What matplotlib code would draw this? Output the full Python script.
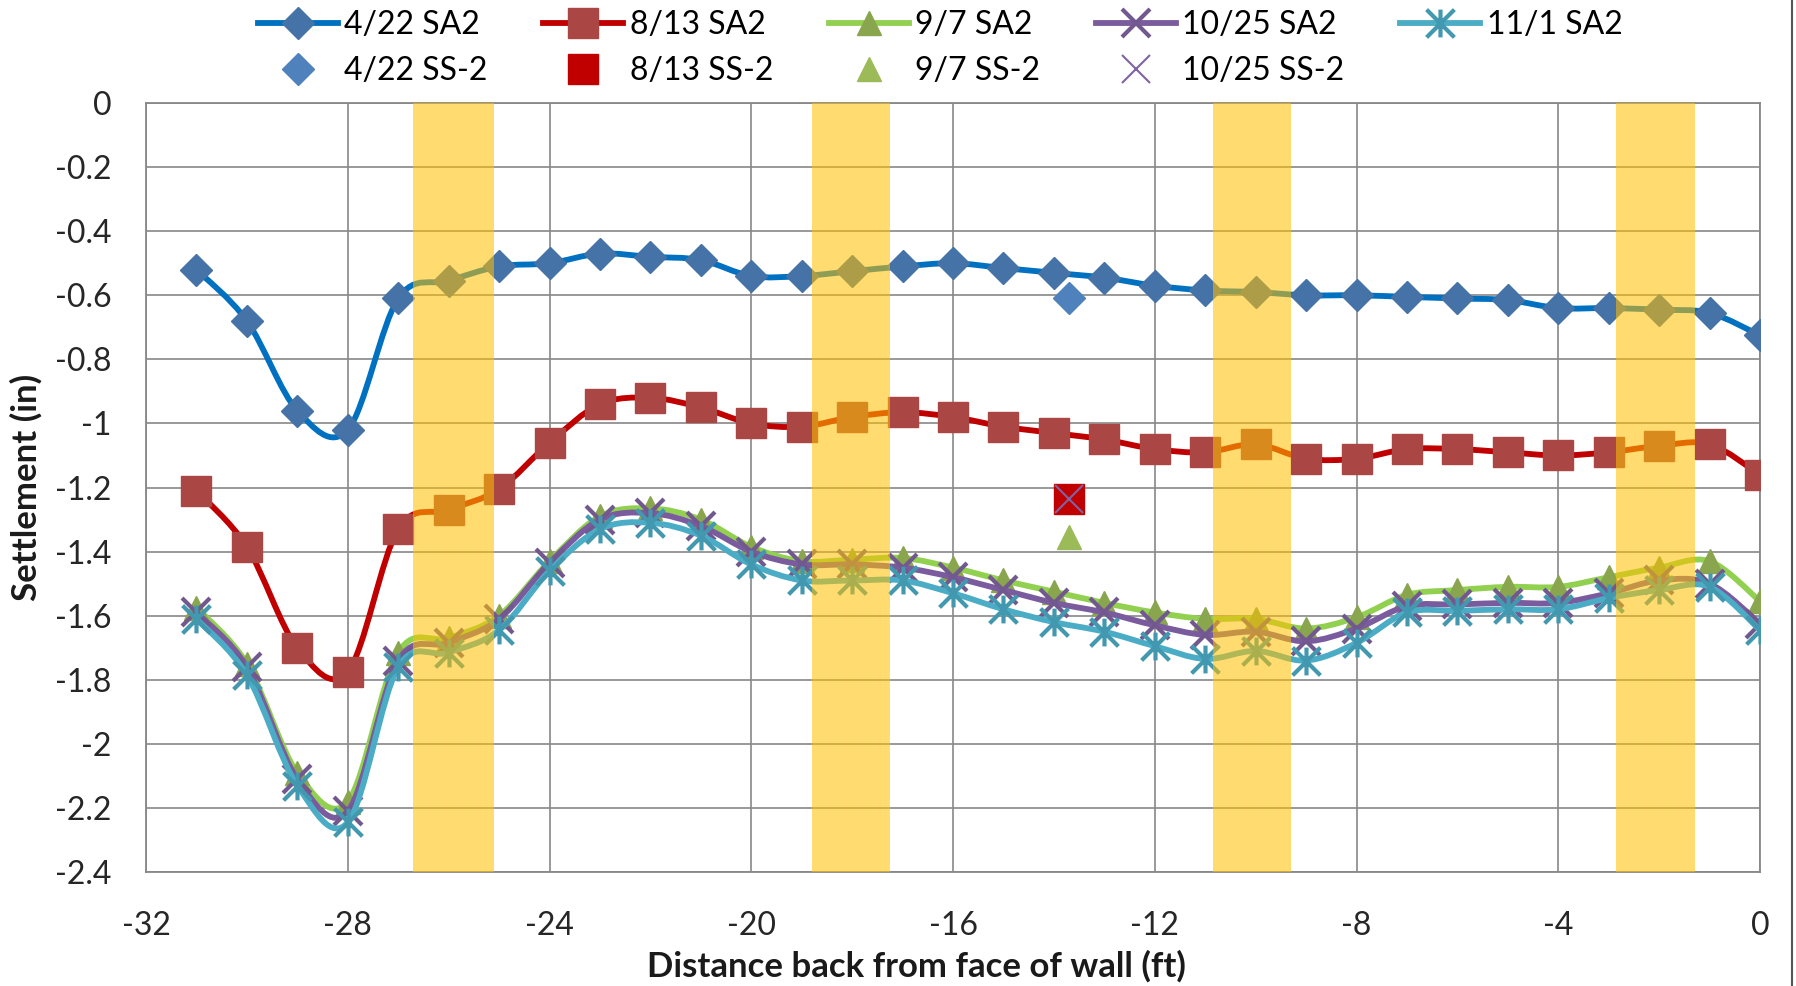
import numpy as np
import matplotlib
matplotlib.use("Agg")
import matplotlib.pyplot as plt
from matplotlib.path import Path
from matplotlib.patches import PathPatch
from matplotlib.lines import Line2D

plt.rcParams["font.family"] = ["Lato", "DejaVu Sans"]
plt.rcParams["axes.unicode_minus"] = False

# --- data ---------------------------------------------------------------
distance = list(range(-31, 1))

sa2_0422 = [-0.52, -0.68, -0.96, -1.02, -0.61, -0.555, -0.51, -0.50, -0.47, -0.48,
            -0.49, -0.54, -0.54, -0.525, -0.51, -0.50, -0.515, -0.53, -0.545, -0.57,
            -0.585, -0.59, -0.60, -0.60, -0.605, -0.61, -0.615, -0.64, -0.64, -0.645,
            -0.655, -0.725]
sa2_0813 = [-1.21, -1.385, -1.70, -1.775, -1.33, -1.27, -1.205, -1.06, -0.94, -0.92,
            -0.95, -1.00, -1.01, -0.98, -0.965, -0.98, -1.01, -1.03, -1.05, -1.08,
            -1.09, -1.065, -1.11, -1.11, -1.08, -1.08, -1.09, -1.10, -1.09, -1.07,
            -1.065, -1.16]
sa2_0907 = [-1.575, -1.75, -2.09, -2.18, -1.715, -1.67, -1.60, -1.43, -1.29, -1.265,
            -1.30, -1.385, -1.43, -1.425, -1.42, -1.45, -1.49, -1.525, -1.56, -1.59,
            -1.61, -1.61, -1.64, -1.605, -1.535, -1.52, -1.51, -1.51, -1.48, -1.45,
            -1.43, -1.555]
sa2_1025 = [-1.59, -1.76, -2.11, -2.21, -1.74, -1.685, -1.61, -1.435, -1.30, -1.28,
            -1.32, -1.40, -1.44, -1.44, -1.45, -1.48, -1.52, -1.56, -1.59, -1.63,
            -1.66, -1.65, -1.68, -1.64, -1.57, -1.565, -1.56, -1.56, -1.53, -1.49,
            -1.50, -1.625]
sa2_1101 = [-1.61, -1.785, -2.13, -2.245, -1.76, -1.715, -1.645, -1.46, -1.33, -1.31,
            -1.35, -1.44, -1.49, -1.49, -1.49, -1.53, -1.58, -1.62, -1.65, -1.695,
            -1.735, -1.71, -1.74, -1.685, -1.59, -1.585, -1.58, -1.58, -1.545, -1.52,
            -1.51, -1.645]

ss2_x = -13.7
ss2_0422 = -0.61
ss2_0813 = -1.235
ss2_0907 = -1.355
ss2_1025 = -1.235

bands = [(-26.7, -25.1), (-18.8, -17.25), (-10.85, -9.3), (-2.85, -1.3)]

x_ticks = list(range(-32, 1, 4))
y_ticks = [round(-0.2 * i, 1) for i in range(12, -1, -1)]


def smooth_path(x, y):
    # Excel-style smoothed line: Catmull-Rom segments as cubic Beziers
    pts = np.column_stack([x, y]).astype(float)
    ext = np.vstack([pts[0], pts, pts[-1]])
    verts = [pts[0]]
    codes = [Path.MOVETO]
    for i in range(1, len(ext) - 2):
        p0, p1, p2, p3 = ext[i - 1], ext[i], ext[i + 1], ext[i + 2]
        verts += [p1 + (p2 - p0) / 6, p2 - (p3 - p1) / 6, p2]
        codes += [Path.CURVE4] * 3
    return Path(verts, codes)


star = Path([(-0.5, -0.5), (0.5, 0.5), (-0.5, 0.5), (0.5, -0.5), (0, -0.5), (0, 0.5)],
            [Path.MOVETO, Path.LINETO, Path.MOVETO, Path.LINETO, Path.MOVETO, Path.LINETO])

LW = 4.2
series = [
    ("4/22 SA2", sa2_0422, "#0070C0", "D", 16, "#4572A7", 1.0),
    ("8/13 SA2", sa2_0813, "#C00000", "s", 21, "#AA4643", 1.0),
    ("9/7 SA2", sa2_0907, "#92D050", "^", 17, "#89A54E", 1.0),
    ("10/25 SA2", sa2_1025, "#7A5C9E", "x", 20, "#71588F", 3.0),
    ("11/1 SA2", sa2_1101, "#4BACC6", star, 20, "#4198AF", 3.0),
]

fig = plt.figure(figsize=(17.96, 9.86), dpi=100)
ax = fig.add_axes([0.0813, 0.1156, 0.9800 - 0.0813, 0.8955 - 0.1156])

handles = {}
for k, (label, vals, lc, m, ms, mc, mew) in enumerate(series):
    z = 3 + k
    ax.add_patch(PathPatch(smooth_path(distance, vals), fill=False, edgecolor=lc,
                           lw=LW, capstyle="round", joinstyle="round", zorder=z))
    line_only = m == "x" or m is star
    ax.plot(distance, vals, ls="none", marker=m, ms=ms, mec=mc,
            mfc="none" if line_only else mc, mew=mew, zorder=z)
    handles[label] = Line2D([], [], color=lc, lw=LW, marker=m, ms=ms, mec=mc,
                            mfc="none" if line_only else mc, mew=mew)

ss2 = [
    ("4/22 SS-2", ss2_0422, "D", 16, "#4F81BD", 1.0, False),
    ("8/13 SS-2", ss2_0813, "s", 21, "#C00000", 1.0, False),
    ("9/7 SS-2", ss2_0907, "^", 17, "#9BBB59", 1.0, False),
    ("10/25 SS-2", ss2_1025, "x", 20, "#8064A2", 1.5, True),
]
for k, (label, val, m, ms, c, mew, line_only) in enumerate(ss2):
    ax.plot([ss2_x], [val], ls="none", marker=m, ms=ms, mec=c,
            mfc="none" if line_only else c, mew=mew, zorder=9 + k)
    handles[label] = Line2D([], [], ls="none", marker=m, ms=ms, mec=c,
                            mfc="none" if line_only else c, mew=mew)

for lo, hi in bands:
    ax.axvspan(lo, hi, color="#FFC000", alpha=0.56, lw=0, zorder=20)

ax.set_xlim(-32, 0)
ax.set_ylim(-2.4, 0)
ax.set_xticks(x_ticks)
ax.set_xticklabels([str(v) for v in x_ticks])
ax.set_yticks(y_ticks)
ax.set_yticklabels([f"{v + 0.0:g}" for v in y_ticks])
ax.grid(True, color="#888888", lw=1.2, zorder=0)
ax.set_axisbelow(True)
for s in ax.spines.values():
    s.set_color("#888888")
    s.set_linewidth(1.3)
ax.tick_params(axis="x", length=0, labelsize=23, colors="#262626", pad=28)
ax.tick_params(axis="y", length=0, labelsize=23, colors="#262626", pad=25)

fig.text(0.510, 0.0095, "Distance back from face of wall (ft)", ha="center",
         va="baseline", fontsize=25, fontweight="bold", color="#1a1a1a")
ax.set_ylabel("Settlement (in)", fontsize=25, fontweight="bold", color="#1a1a1a",
              labelpad=9)

order = ["4/22 SA2", "4/22 SS-2", "8/13 SA2", "8/13 SS-2", "9/7 SA2", "9/7 SS-2",
         "10/25 SA2", "10/25 SS-2", "11/1 SA2"]
fig.legend([handles[o] for o in order], order, loc="upper center",
           bbox_to_anchor=(0.5234, 0.996), ncol=5, frameon=False, fontsize=23,
           handlelength=2.5, handletextpad=0.2, columnspacing=1.75,
           labelspacing=0.5, borderaxespad=0, borderpad=0.2)

fig.add_artist(Line2D([0.9978, 0.9978], [0, 1], transform=fig.transFigure,
                      color="#555555", lw=1.5))

fig.savefig("out.png", dpi=100)
plt.close(fig)
